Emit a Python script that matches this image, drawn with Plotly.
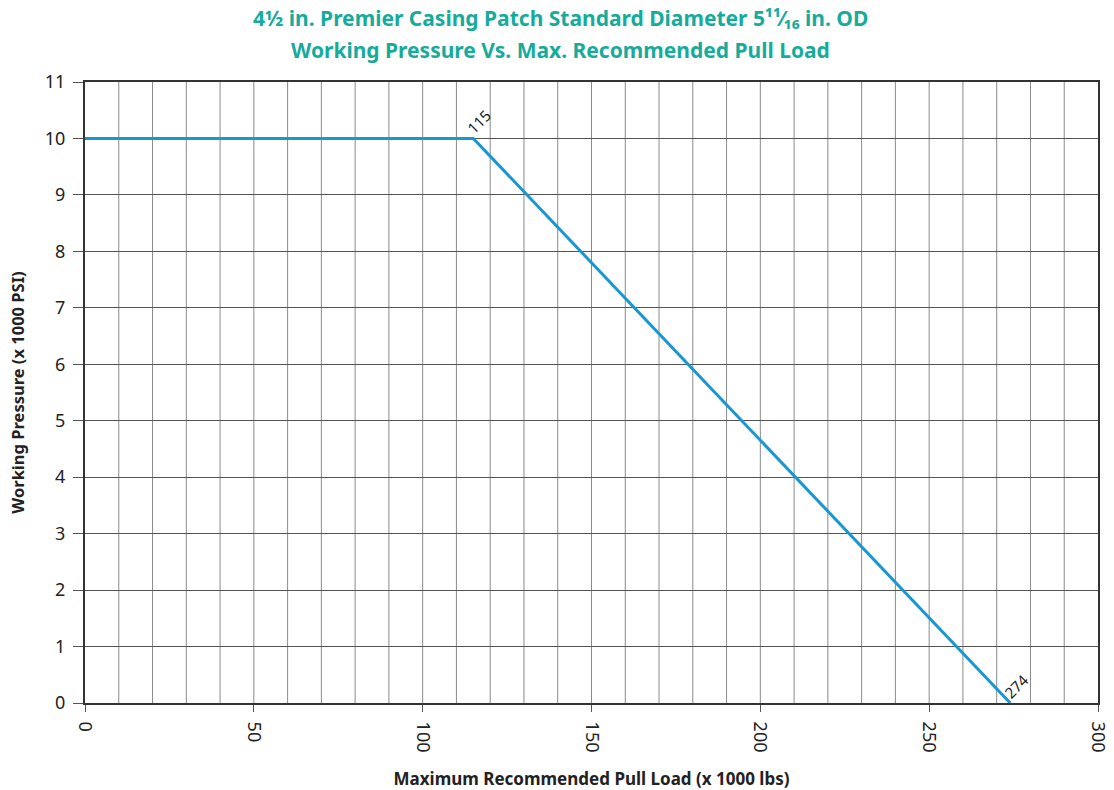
import plotly.graph_objects as go

# Pull load (x 1000 lbs) vs working pressure (x 1000 PSI)
pull_load = [0, 115, 274]
pressure = [10, 10, 0]

# Labelled break points
label_x = [115, 274]
label_y = [10, 0]
label_text = ["115", "274"]

x_ticks = [0, 50, 100, 150, 200, 250, 300]
y_ticks = list(range(0, 12))

title_lines = [
    "4½ in. Premier Casing Patch Standard Diameter 5¹¹⁄₁₆ in. OD",
    "Working Pressure Vs. Max. Recommended Pull Load",
]

title_color = "#17ab9c"
line_color = "#1997d4"
font_family = "Noto Sans, Open Sans, sans-serif"

fig = go.Figure()
fig.add_trace(go.Scatter(
    x=pull_load, y=pressure, mode="lines",
    line=dict(color=line_color, width=3),
    hoverinfo="skip", showlegend=False,
))

for lx, ly, lt in zip(label_x, label_y, label_text):
    fig.add_annotation(
        x=lx, y=ly, text=lt, showarrow=False, textangle=-45,
        xanchor="left", yanchor="bottom", xshift=-13, yshift=-2,
        font=dict(size=15, color="#222", family=font_family),
    )

# two-line heading, centred on the page width
for ty, line in zip([1.103, 1.0515], title_lines):
    fig.add_annotation(
        xref="paper", yref="paper", x=0.469, y=ty, text=f"<b>{line}</b>",
        showarrow=False, xanchor="center", yanchor="middle",
        font=dict(size=21, color=title_color, family=font_family),
    )

fig.update_layout(
    width=1114, height=790,
    margin=dict(l=85, r=16, t=82, b=87),
    paper_bgcolor="white", plot_bgcolor="white",
    font=dict(family=font_family, color="#222"),
    xaxis=dict(
        range=[0, 300], tickvals=x_ticks, tickangle=90,
        ticks="outside", ticklen=7, tickcolor="#555",
        ticklabelstandoff=6, automargin=False,
        tickfont=dict(size=18, color="#222"),
        showgrid=False,
        showline=True, linecolor="#333", linewidth=2, mirror=True,
        zeroline=False,
        title=dict(text="<b>Maximum Recommended Pull Load (x 1000 lbs)</b>",
                   font=dict(size=17, color="#222"), standoff=22),
    ),
    yaxis=dict(
        range=[0, 11], tickvals=y_ticks,
        ticks="outside", ticklen=10, tickcolor="#555",
        ticklabelstandoff=4, automargin=False,
        tickfont=dict(size=18, color="#222"),
        showgrid=True, gridcolor="#555", gridwidth=1,
        showline=True, linecolor="#333", linewidth=2, mirror=True,
        zeroline=False,
        title=dict(text="<b>Working Pressure (x 1000 PSI)</b>",
                   font=dict(size=16.5, color="#222"), standoff=16),
    ),
)

# vertical grid every 10 units
for gx in range(10, 300, 10):
    fig.add_shape(type="line", xref="x", yref="paper", x0=gx, x1=gx, y0=0, y1=1,
                  line=dict(color="#8a8a8a", width=1), layer="below")

fig.write_html("out.html")
